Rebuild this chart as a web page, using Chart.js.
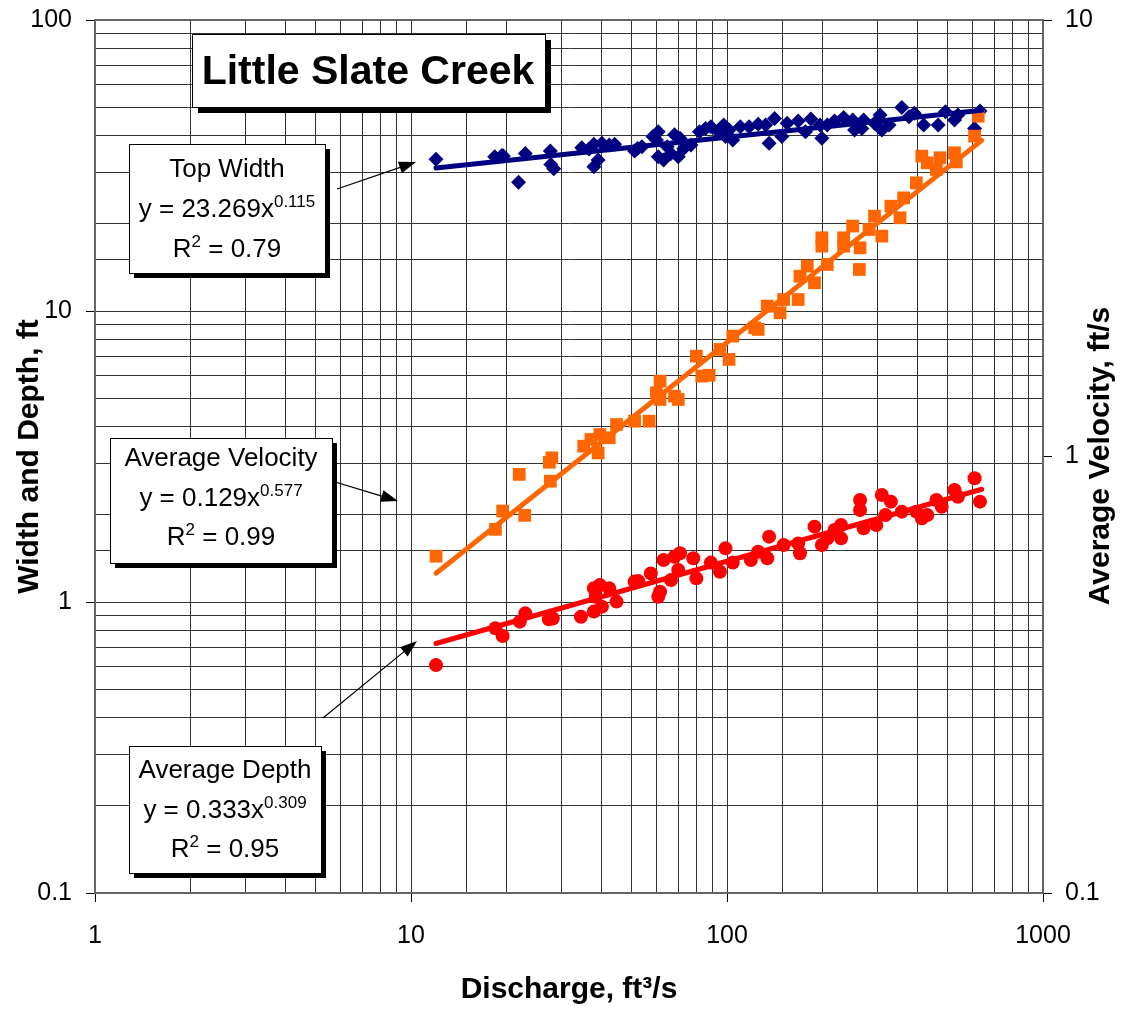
<!DOCTYPE html>
<html>
<head>
<meta charset="utf-8">
<script src="https://cdn.jsdelivr.net/npm/chart.js@4.4.0/dist/chart.umd.min.js"></script>
<style>
  html, body { margin: 0; padding: 0; background: #fff; }
</style>
</head>
<body>
<canvas id="c" width="1123" height="1011"></canvas>
<script>
// Top width: discharge (ft3/s) and width (ft)
const widthQ = [12.0, 21.9, 18.4, 19.4, 19.6, 23.0, 27.6, 27.7, 28.3, 34.7, 36.6, 37.9, 39.1, 37.9, 40.2,
  42.4, 44.1, 51.0, 52.1, 53.8, 58.3, 60.6, 59.8, 60.6, 63.0, 66.5, 70.1, 68.2, 71.0, 73.0, 64.7, 76.9,
  81.8, 85.5, 88.9, 93.9, 97.6, 101.5, 104.3, 98.9, 110.2, 117.5, 125.5, 132.5, 135.9, 141.4, 149.1,
  155.0, 168.0, 184.3, 177.1, 197.0, 199.6, 207.7, 218.9, 233.9, 249.9, 253.3, 270.6, 267.1, 293.0,
  305.0, 309.0, 325.8, 357.5, 377.0, 391.5, 419.2, 466.0, 491.2, 524.8, 538.0, 607.4, 631.8]
const widthFt = [33.2, 27.7, 33.9, 34.2, 34.1, 34.8, 35.5, 31.9, 30.8, 36.4, 36.0, 37.4, 33.0, 31.3, 37.7,
  37.2, 37.4, 35.5, 36.2, 36.7, 39.8, 41.3, 38.7, 33.9, 33.0, 34.8, 33.9, 40.3, 39.2, 36.2, 36.7, 37.2,
  41.3, 42.4, 43.0, 41.3, 43.6, 41.9, 38.7, 39.8, 43.0, 43.0, 43.8, 43.6, 37.7, 45.9, 39.8,
  44.2, 45.0, 45.7, 41.3, 43.6, 39.2, 43.6, 45.0, 46.2, 45.3, 41.9, 45.3, 42.4, 44.2,
  47.2, 41.9, 43.6, 50.0, 46.5, 47.8, 43.6, 43.6, 48.4, 45.3, 47.2, 42.4, 48.7]

// Average velocity (ft/s), right axis
const velQ = [12.0, 18.5, 19.5, 22.0, 22.9, 27.6, 27.9, 27.4, 35.2, 37.1, 39.1, 39.6, 42.4, 44.7,
  51.0, 56.7, 61.4, 61.4, 68.2, 70.1, 59.8, 80.0, 83.2, 87.8, 95.0, 101.5, 104.3, 122.3, 125.5,
  134.1, 147.2, 151.1, 168.0, 170.2, 179.5, 189.2, 199.6, 199.6, 207.7, 233.9, 233.9, 249.9, 263.7,
  262.3, 281.6, 293.0, 309.0, 330.1, 352.8, 362.2, 397.4, 413.5, 430.3, 459.8, 472.2, 524.8, 531.8,
  607.4, 623.7]
const velFt = [0.591, 0.681, 0.750, 0.910, 0.733, 0.878, 0.993, 0.97, 1.056, 1.094, 1.019, 1.123, 1.104, 1.184,
  1.205, 1.205, 1.488, 1.351, 1.375, 1.351, 1.399, 1.698, 1.528, 1.535, 1.759, 1.669, 1.887, 1.972, 1.955,
  2.211, 2.134, 2.289, 2.289, 2.589, 2.730, 2.500, 3.170, 3.033, 2.754, 3.170, 3.033, 3.372, 3.007,
  2.682, 3.312, 3.553, 3.198, 3.745, 3.522, 3.913, 4.236, 4.877, 4.709, 4.546, 4.835, 4.963, 4.730,
  5.420, 6.020]

// Average depth (ft), left axis
const depthQ = [12.0, 18.5, 19.5, 22.1, 23.0, 27.3, 28.1, 34.5, 37.9, 37.9, 39.6, 40.2, 42.4, 44.7,
  38.4, 51.0, 52.4, 57.4, 60.6, 61.4, 63.0, 66.5, 68.2, 71.0, 70.1, 78.2, 80.0, 88.9, 95.0, 98.9,
  104.3, 119.0, 125.5, 135.9, 134.1, 151.1, 170.2, 168.0, 189.2, 199.6, 207.7, 218.9, 229.6, 229.6,
  263.7, 263.7, 270.6, 296.9, 309.0, 330.1, 317.2, 357.5, 397.4, 413.5, 430.3, 459.8, 478.0, 524.8,
  538.0, 607.4, 631.8]
const depthFt = [0.607, 0.812, 0.764, 0.856, 0.914, 0.872, 0.878, 0.890, 0.927, 1.114, 1.144, 0.964, 1.114, 1.003,
  1.043, 1.175, 1.180, 1.254, 1.043, 1.085, 1.394, 1.190, 1.431, 1.470, 1.288, 1.413, 1.206, 1.366, 1.271, 1.529,
  1.366, 1.394, 1.489, 1.677, 1.413, 1.570, 1.470, 1.588, 1.815, 1.570, 1.655, 1.768, 1.839, 1.655,
  2.241, 2.071, 1.791, 1.839, 2.332, 2.212, 1.991, 2.044, 2.044, 1.939, 1.991, 2.241, 2.126, 2.426,
  2.301, 2.661, 2.212]

// power-law trend lines, end points as drawn
const fitQ = [12, 640]
const widthFit = [31.0, 49.0]
const velFit = [0.54, 5.3]
const depthFit = [0.72, 2.44]

const FONT = '"Liberation Sans", Arial, sans-serif'
const pts = (xs, ys) => xs.map((x, i) => ({ x, y: ys[i] }))
const isDecade = v => Math.abs(Math.log10(v) - Math.round(Math.log10(v))) < 1e-6
const decadeLabel = v => isDecade(v) ? (v >= 1 ? String(Math.round(v)) : v.toFixed(1)) : ''
const tickCol = ctx => ctx.tick && isDecade(ctx.tick.value) ? '#000' : 'rgba(0,0,0,0)'

// fixed axis sizes so the plot area sits where the original does
const fixWidth = w => s => { s.width = w; s.paddingTop = 0; s.paddingBottom = 0 }

function fitLine(ys, color, axis) {
  return {
    type: 'line', data: pts(fitQ, ys), yAxisID: axis, showLine: true,
    borderColor: color, borderWidth: 5, borderCapStyle: 'round',
    pointRadius: 0, fill: false, order: 0,
  }
}

function drawBox(ctx, x, y, w, h, sh) {
  ctx.fillStyle = '#000'
  ctx.fillRect(x + sh, y + sh, w, h)
  ctx.fillStyle = '#fff'
  ctx.fillRect(x, y, w, h)
  ctx.strokeStyle = '#000'
  ctx.lineWidth = 1
  ctx.strokeRect(x + 0.5, y + 0.5, w, h)
}

// parts: [text, isSuperscript]
function drawLine(ctx, cx, base, parts) {
  const big = '26px ' + FONT, small = '17px ' + FONT
  let total = 0
  parts.forEach(([t, sup]) => { ctx.font = sup ? small : big; total += ctx.measureText(t).width })
  let x = cx - total / 2
  ctx.fillStyle = '#000'
  ctx.textAlign = 'left'
  ctx.textBaseline = 'alphabetic'
  parts.forEach(([t, sup]) => {
    ctx.font = sup ? small : big
    ctx.fillText(t, x, sup ? base - 10 : base)
    x += ctx.measureText(t).width
  })
}

function arrow(ctx, x1, y1, x2, y2) {
  const a = Math.atan2(y2 - y1, x2 - x1), len = 17, hw = 6
  ctx.strokeStyle = '#000'
  ctx.lineWidth = 1.2
  ctx.beginPath()
  ctx.moveTo(x1, y1)
  ctx.lineTo(x2 - Math.cos(a) * len * 0.8, y2 - Math.sin(a) * len * 0.8)
  ctx.stroke()
  ctx.fillStyle = '#000'
  ctx.beginPath()
  ctx.moveTo(x2, y2)
  ctx.lineTo(x2 - Math.cos(a) * len - Math.sin(a) * hw, y2 - Math.sin(a) * len + Math.cos(a) * hw)
  ctx.lineTo(x2 - Math.cos(a) * len + Math.sin(a) * hw, y2 - Math.sin(a) * len - Math.cos(a) * hw)
  ctx.closePath()
  ctx.fill()
}

const annotate = {
  id: 'annotate',
  beforeDatasetsDraw(chart) {
    const { ctx, chartArea: a } = chart
    ctx.save()
    ctx.strokeStyle = '#666'
    ctx.lineWidth = 2
    ctx.beginPath()
    ctx.moveTo(a.left, a.top)
    ctx.lineTo(a.right, a.top)
    ctx.stroke()
    ctx.restore()
  },
  afterDraw(chart) {
    const ctx = chart.ctx
    ctx.save()
    // title
    drawBox(ctx, 192, 34, 353, 73, 6)
    ctx.fillStyle = '#000'
    ctx.font = 'bold 41px ' + FONT
    ctx.textAlign = 'center'
    ctx.textBaseline = 'alphabetic'
    ctx.fillText('Little Slate Creek', 368, 84)

    // Top width
    arrow(ctx, 337, 189, 416, 162)
    drawBox(ctx, 129, 144, 196, 129, 5)
    drawLine(ctx, 227, 177, [['Top Width', false]])
    drawLine(ctx, 227, 217, [['y = 23.269x', false], ['0.115', true]])
    drawLine(ctx, 227, 257, [['R', false], ['2', true], [' = 0.79', false]])

    // Average velocity
    arrow(ctx, 322, 478, 398, 501)
    drawBox(ctx, 110, 438, 222, 125, 5)
    drawLine(ctx, 221, 466, [['Average Velocity', false]])
    drawLine(ctx, 221, 506, [['y = 0.129x', false], ['0.577', true]])
    drawLine(ctx, 221, 545, [['R', false], ['2', true], [' = 0.99', false]])

    // Average depth
    arrow(ctx, 323, 718, 417, 641)
    drawBox(ctx, 129, 746, 192, 127, 5)
    drawLine(ctx, 225, 778, [['Average Depth', false]])
    drawLine(ctx, 225, 818, [['y = 0.333x', false], ['0.309', true]])
    drawLine(ctx, 225, 857, [['R', false], ['2', true], [' = 0.95', false]])

    // right axis title, reading bottom to top
    ctx.translate(1101, 456)
    ctx.rotate(-Math.PI / 2)
    ctx.font = 'bold 30px ' + FONT
    ctx.textAlign = 'center'
    ctx.textBaseline = 'middle'
    ctx.fillStyle = '#000'
    ctx.fillText('Average Velocity, ft/s', 0, 0)
    ctx.restore()
  },
}

const gridCol = '#333'

new Chart(document.getElementById('c'), {
  type: 'scatter',
  data: {
    datasets: [
      fitLine(widthFit, '#000080', 'y'),
      fitLine(velFit, '#FF6600', 'y2'),
      fitLine(depthFit, '#FF0000', 'y'),
      {
        label: 'Top Width', data: pts(widthQ, widthFt), yAxisID: 'y', order: 3,
        pointStyle: 'rectRot', pointRadius: 7.5, borderWidth: 0,
        backgroundColor: '#000080', borderColor: '#000080',
      },
      {
        label: 'Average Velocity', data: pts(velQ, velFt), yAxisID: 'y2', order: 2,
        pointStyle: 'rect', pointRadius: 9, borderWidth: 0,
        backgroundColor: '#FF6600', borderColor: '#FF6600',
      },
      {
        label: 'Average Depth', data: pts(depthQ, depthFt), yAxisID: 'y', order: 2,
        pointStyle: 'circle', pointRadius: 7, borderWidth: 0,
        backgroundColor: '#FF0000', borderColor: '#FF0000',
      },
    ],
  },
  options: {
    responsive: false,
    animation: false,
    layout: { padding: { top: 20, left: 0, right: 0, bottom: 0 } },
    plugins: { legend: { display: false }, tooltip: { enabled: false } },
    scales: {
      x: {
        type: 'logarithmic', position: 'bottom', min: 1, max: 1000,
        afterFit: s => { s.height = 118 },
        grid: { color: gridCol, lineWidth: 1, tickLength: 9, tickColor: tickCol },
        border: { color: '#666', width: 2 },
        ticks: {
          autoSkip: false, maxRotation: 0, padding: 19, color: '#000',
          font: { family: FONT, size: 25 }, callback: decadeLabel,
        },
        title: {
          display: true, text: 'Discharge, ft³/s', color: '#000',
          font: { family: FONT, size: 30, weight: 'bold' }, padding: { top: 0, bottom: 3 },
        },
      },
      y: {
        type: 'logarithmic', position: 'left', min: 0.1, max: 100,
        afterFit: fixWidth(95),
        grid: { color: gridCol, lineWidth: 1, tickLength: 9, tickColor: tickCol },
        border: { color: '#666', width: 2 },
        ticks: {
          autoSkip: false, padding: 14, color: '#000',
          font: { family: FONT, size: 25 }, callback: decadeLabel,
        },
        title: {
          display: true, text: 'Width and Depth, ft', color: '#000',
          font: { family: FONT, size: 30, weight: 'bold' }, padding: { top: 12, bottom: 0 },
        },
      },
      y2: {
        type: 'logarithmic', position: 'right', min: 0.1, max: 10,
        afterFit: fixWidth(80),
        grid: { drawOnChartArea: false, tickLength: 9, tickColor: tickCol },
        border: { color: '#666', width: 2 },
        ticks: {
          autoSkip: false, padding: 13, color: '#000',
          font: { family: FONT, size: 25 }, callback: decadeLabel,
        },
      },
    },
  },
  plugins: [annotate],
})
</script>
</body>
</html>
